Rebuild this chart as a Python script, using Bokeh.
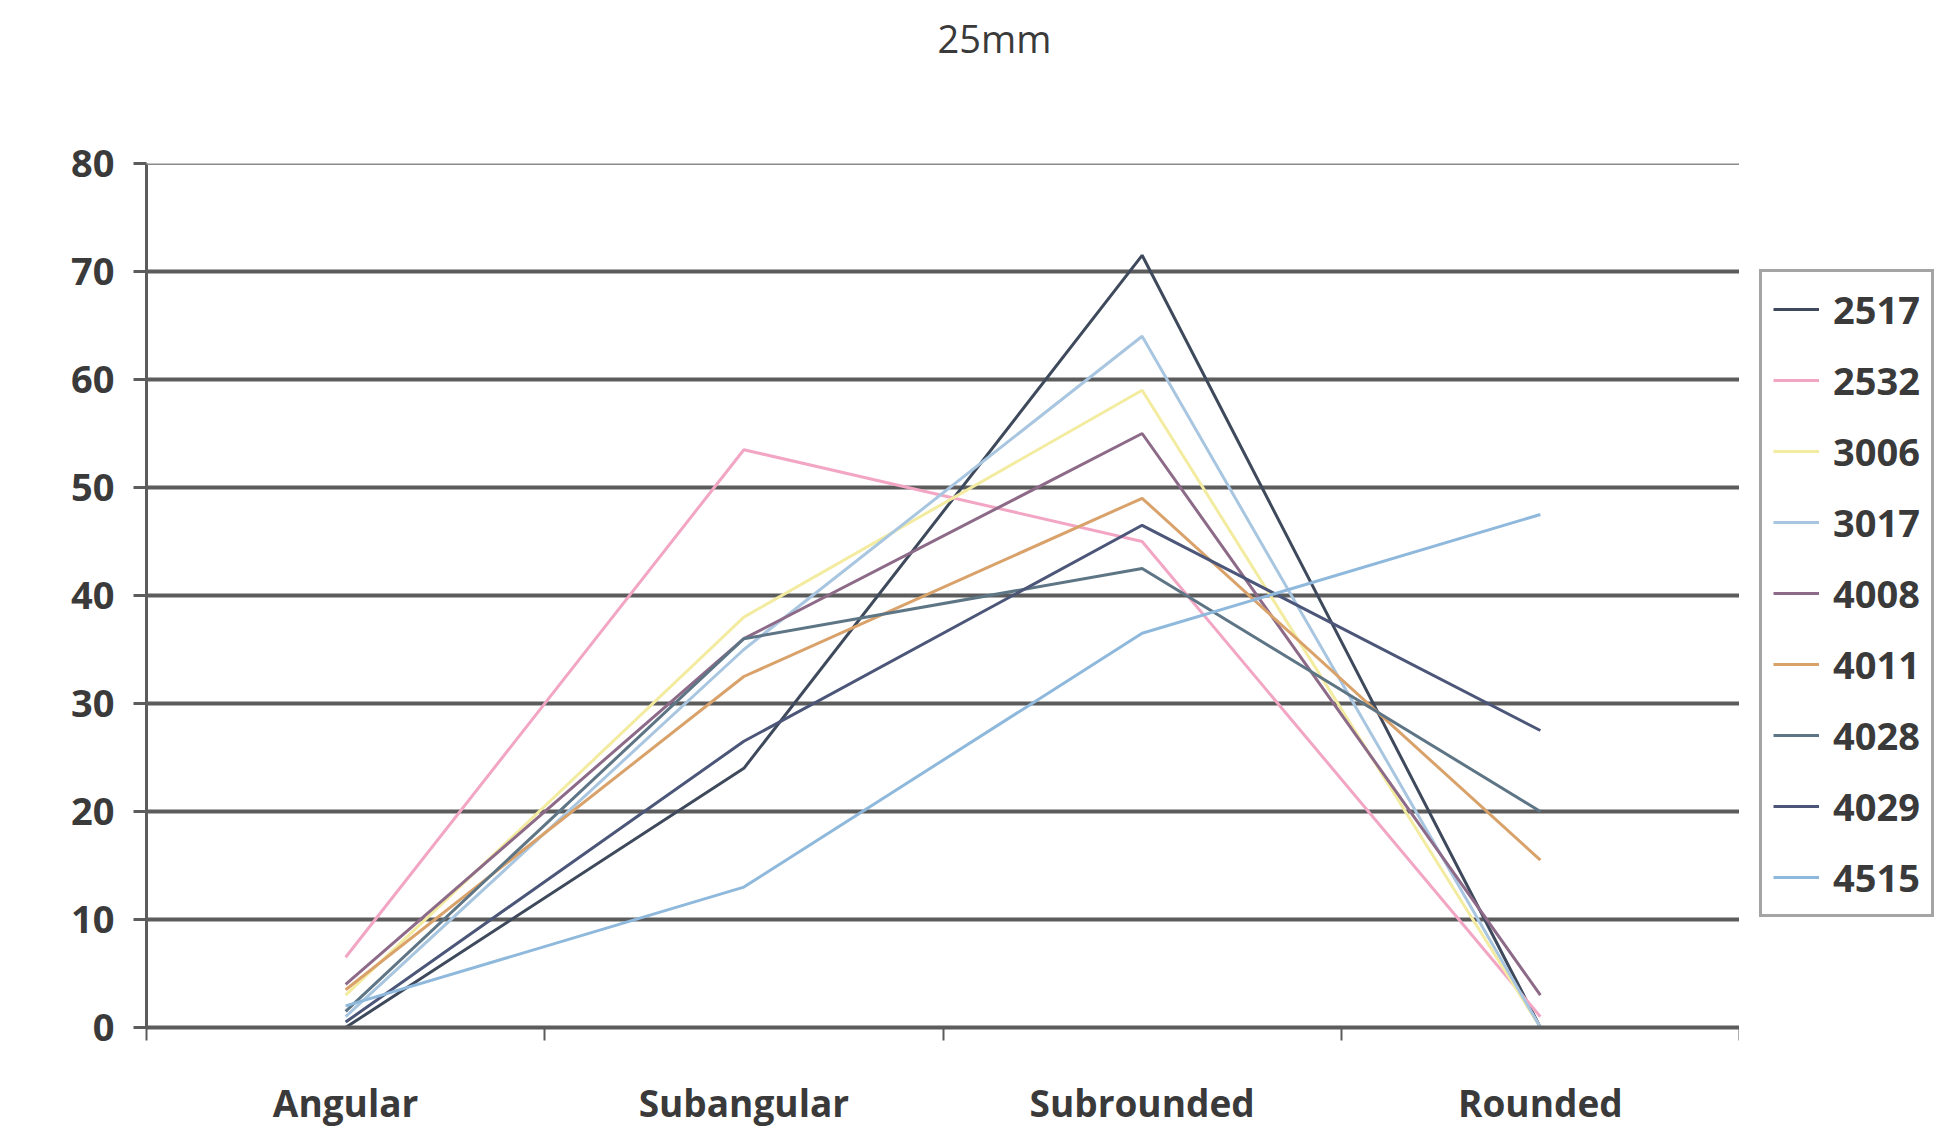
from bokeh.plotting import figure
from bokeh.models import FixedTicker, Legend, LegendItem, Span, Range1d, Label
from bokeh.layouts import row, column
from bokeh.embed import file_html
from bokeh.resources import INLINE

categories = ["Angular", "Subangular", "Subrounded", "Rounded"]
series_names = ["2517", "2532", "3006", "3017", "4008", "4011", "4028", "4029", "4515"]
s2517 = [0, 24, 71.5, 0]
s2532 = [6.5, 53.5, 45, 1]
s3006 = [3, 38, 59, 0]
s3017 = [1, 35, 64, 0]
s4008 = [4, 36, 55, 3]
s4011 = [3.5, 32.5, 49, 15.5]
s4028 = [1.5, 36, 42.5, 20]
s4029 = [0.5, 26.5, 46.5, 27.5]
s4515 = [2, 13, 36.5, 47.5]
series_values = [s2517, s2532, s3006, s3017, s4008, s4011, s4028, s4029, s4515]
series_colors = ["#3e4a5c", "#f2a6c4", "#f3eca0", "#a9c6e0", "#8c6a88",
                 "#d9a26a", "#5e7585", "#4b5678", "#8fb9dc"]
y_ticks = [0, 10, 20, 30, 40, 50, 60, 70, 80]
title_text = "25mm"

FONT = "Open Sans"
TXT = "#3a3a3a"
GRID = "#5c5c5c"
TITLE_H = 75
TOP = 163 - TITLE_H
FRAME_W, FRAME_H = 1593, 864
BOTTOM = 105
LEG_GAP, LEG_FRAME_W = 20, 182

# ---- title strip ----
tf = figure(width=146 + FRAME_W + LEG_GAP + LEG_FRAME_W, height=TITLE_H,
            output_backend="svg", toolbar_location=None,
            x_axis_location=None, y_axis_location=None,
            min_border=0, x_range=Range1d(0, 1), y_range=Range1d(0, 1))
tf.outline_line_color = None
tf.grid.visible = False
tf.add_layout(Label(x=994, y=TITLE_H - 37, x_units="screen", y_units="screen",
                    text=title_text, text_align="center", text_baseline="middle",
                    text_font=FONT, text_font_size="38px", text_color=TXT))

# ---- main plot ----
p = figure(frame_width=FRAME_W, frame_height=FRAME_H, output_backend="svg",
           toolbar_location=None, min_border_left=146, min_border_top=TOP,
           min_border_bottom=BOTTOM, min_border_right=0,
           x_range=Range1d(0, len(categories)), y_range=Range1d(0, 80))
p.outline_line_color = None
p.background_fill_color = "white"
p.border_fill_color = "white"

xs = [i + 0.5 for i in range(len(categories))]
for name, vals, col in zip(series_names, series_values, series_colors):
    p.line(xs, vals, line_color=col, line_width=3)

p.xaxis.ticker = FixedTicker(ticks=xs, minor_ticks=list(range(len(categories) + 1)))
p.xaxis.major_label_overrides = {x: c for x, c in zip(xs, categories)}
p.xaxis.major_tick_out = 0
p.xaxis.major_tick_in = 0
p.xaxis.minor_tick_out = 13
p.xaxis.minor_tick_in = 0
p.xaxis.minor_tick_line_color = GRID
p.xaxis.minor_tick_line_width = 2
p.xaxis.axis_line_color = GRID
p.xaxis.axis_line_width = 4
p.xaxis.major_label_standoff = 36
p.xaxis.major_label_text_font = FONT
p.xaxis.major_label_text_font_size = "37px"
p.xaxis.major_label_text_font_style = "bold"
p.xaxis.major_label_text_color = TXT

p.yaxis.ticker = FixedTicker(ticks=y_ticks, minor_ticks=[])
p.yaxis.major_tick_out = 13
p.yaxis.major_tick_in = 0
p.yaxis.major_tick_line_color = GRID
p.yaxis.major_tick_line_width = 3
p.yaxis.axis_line_color = GRID
p.yaxis.axis_line_width = 3
p.yaxis.major_label_standoff = 19
p.yaxis.major_label_text_font = FONT
p.yaxis.major_label_text_font_size = "38px"
p.yaxis.major_label_text_font_style = "bold"
p.yaxis.major_label_text_color = TXT

p.xgrid.grid_line_color = None
p.ygrid.ticker = FixedTicker(ticks=y_ticks[1:-1])
p.ygrid.grid_line_color = GRID
p.ygrid.grid_line_width = 4
p.add_layout(Span(location=80, dimension="width", line_color="#8a8a8a", line_width=3))

# ---- legend panel (frame aligned with the plot frame) ----
lf = figure(frame_width=LEG_FRAME_W, frame_height=FRAME_H, output_backend="svg",
            toolbar_location=None, x_axis_location=None, y_axis_location=None,
            min_border_left=LEG_GAP, min_border_right=0, min_border_top=TOP,
            min_border_bottom=BOTTOM, x_range=Range1d(0, 1), y_range=Range1d(0, 1))
lf.outline_line_color = None
lf.grid.visible = False
lf.border_fill_color = "white"
lf.background_fill_color = "white"
items = []
for name, col in zip(series_names, series_colors):
    r = lf.line([5, 6], [5, 6], line_color=col, line_width=3)
    items.append(LegendItem(label=name, renderers=[r]))

legend = Legend(items=items, location=(0, 110), margin=0, padding=11,
                spacing=19, glyph_width=46, glyph_height=40, label_height=40,
                label_standoff=14, border_line_color="#4a4a4a", border_line_width=3,
                label_text_font=FONT, label_text_font_size="38px",
                label_text_font_style="bold", label_text_color=TXT,
                background_fill_color="white")
lf.add_layout(legend, "center")

layout = column(tf, row(p, lf, spacing=0), spacing=0)
open("out.html", "w").write(file_html(layout, INLINE))
